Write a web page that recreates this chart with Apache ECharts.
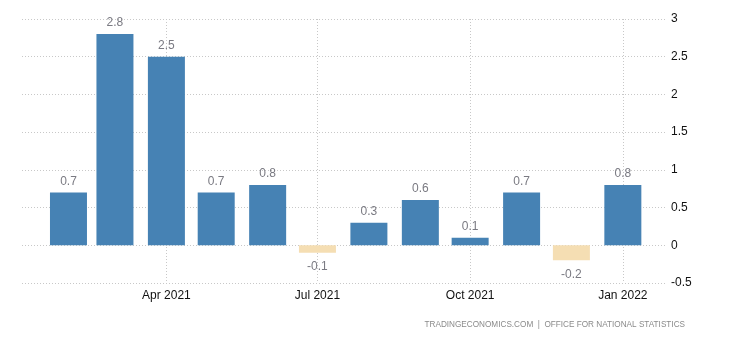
<!DOCTYPE html>
<html>
<head>
<meta charset="utf-8">
<script src="https://cdn.jsdelivr.net/npm/echarts@6/dist/echarts.min.js"></script>
<style>
  html, body { margin: 0; padding: 0; background: #fff; }
  #chart { width: 730px; height: 340px; }
</style>
</head>
<body>
<div id="chart"></div>
<script>
// Monthly change, Feb 2021 – Jan 2022 (one bar per month, placed on the 1st)
const months = ['2021-02-01', '2021-03-01', '2021-04-01', '2021-05-01', '2021-06-01', '2021-07-01',
                '2021-08-01', '2021-09-01', '2021-10-01', '2021-11-01', '2021-12-01', '2022-01-01'];
const values = [0.7, 2.8, 2.5, 0.7, 0.8, -0.1, 0.3, 0.6, 0.1, 0.7, -0.2, 0.8];
const tickDates = ['2021-04-01', '2021-07-01', '2021-10-01', '2022-01-01'];
const tickLabels = ['Apr 2021', 'Jul 2021', 'Oct 2021', 'Jan 2022'];
const yTicks = [-0.5, 0, 0.5, 1, 1.5, 2, 2.5, 3];

const POS = '#4682B4';
const NEG = '#F5DEB3';
const GRID_LINE = { color: '#c8c8c8', type: [1, 2], width: 1 };
const FONT = 'Arial, "Liberation Sans", sans-serif';

// Dates are placed on a linear scale of milliseconds
const toTime = s => {
  const [y, m, d] = s.split('-').map(Number);
  return Date.UTC(y, m - 1, d);
};
const tickTimes = tickDates.map(toTime);

const chart = echarts.init(document.getElementById('chart'), null, { renderer: 'canvas' });
chart.setOption({
  animation: false,
  grid: { left: 22, right: 64, top: 19, bottom: 57 },
  xAxis: {
    type: 'value',
    min: toTime('2021-01-04'),
    max: toTime('2022-01-27'),
    axisLine: { show: false },
    axisTick: { show: false, customValues: tickTimes },
    splitLine: { show: true, lineStyle: GRID_LINE },
    axisLabel: {
      customValues: tickTimes,
      formatter: v => {
        const i = tickTimes.indexOf(v);
        return i >= 0 ? tickLabels[i] : '';
      },
      color: '#111',
      fontFamily: FONT,
      fontSize: 12,
      margin: 7
    }
  },
  yAxis: {
    type: 'value',
    position: 'right',
    min: yTicks[0],
    max: yTicks[yTicks.length - 1],
    interval: 0.5,
    axisLine: { show: false },
    axisTick: { show: false },
    splitLine: { show: true, lineStyle: GRID_LINE },
    axisLabel: {
      color: '#111',
      fontFamily: FONT,
      fontSize: 12,
      margin: 5
    }
  },
  series: [{
    type: 'bar',
    barWidth: 37,
    data: values.map((v, i) => ({
      value: [toTime(months[i]), v],
      itemStyle: { color: v < 0 ? NEG : POS },
      label: { position: v < 0 ? 'bottom' : 'top', distance: v < 0 ? 8 : 5 }
    })),
    label: {
      show: true,
      formatter: p => p.value[1],
      color: '#7a7a82',
      fontFamily: FONT,
      fontSize: 12
    }
  }],
  graphic: [{
    type: 'text',
    x: 685,
    y: 325,
    style: {
      text: 'TRADINGECONOMICS.COM  |  OFFICE FOR NATIONAL STATISTICS',
      fill: '#8a8a8a',
      font: '8.2px Arial, "Liberation Sans", sans-serif',
      align: 'right',
      verticalAlign: 'middle'
    }
  }]
});
</script>
</body>
</html>
